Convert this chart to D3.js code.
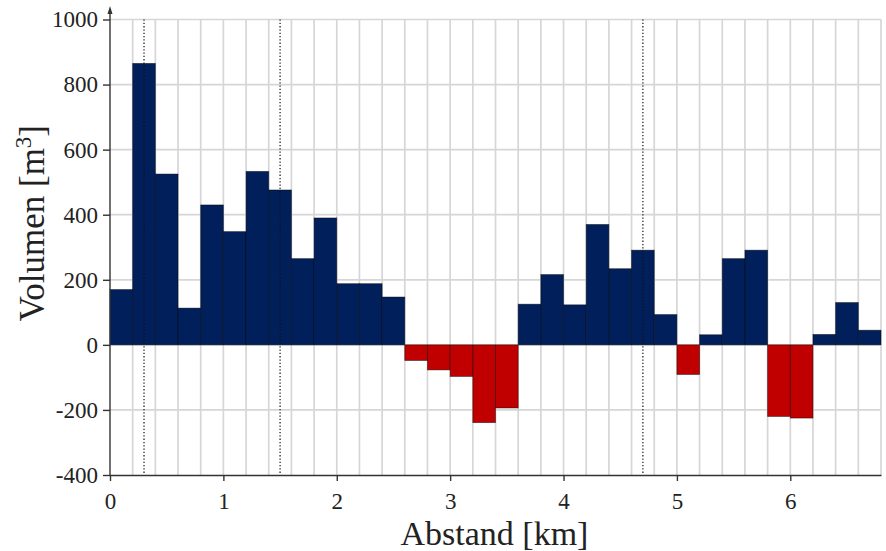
<!DOCTYPE html>
<html>
<head>
<meta charset="utf-8">
<script src="https://cdn.jsdelivr.net/npm/d3@7"></script>
<style>
  body { margin: 0; background: #fff; }
  svg text { font-family: "Liberation Serif", "DejaVu Serif", serif; fill: #222; }
</style>
</head>
<body>
<div id="chart"></div>
<script>
// bin start (km), bin width 0.2 km
const binStarts = d3.range(34).map(i => +(i * 0.2).toFixed(1));
const volumes = [170, 865, 525, 113, 430, 348, 533, 476, 265, 390,
                 188, 188, 147, -48, -77, -97, -239, -194, 125, 216,
                 123, 370, 234, 291, 93, -91, 31, 265, 291, -220,
                 -225, 32, 130, 45];
const markers = [0.3, 1.5, 4.7];
const yTicks = [-400, -200, 0, 200, 400, 600, 800, 1000];
const xTicks = [0, 1, 2, 3, 4, 5, 6];

const width = 886, height = 551;
const margin = {top: 19.5, right: 5, bottom: 76, left: 110};
const binWidth = 0.2;
const posColor = "#001f5b";
const negColor = "#c00000";

const svg = d3.select("#chart").append("svg")
  .attr("width", width)
  .attr("height", height);

const x = d3.scaleLinear().domain([0, 6.8]).range([margin.left, width - margin.right]);
const y = d3.scaleLinear().domain([-400, 1000]).range([height - margin.bottom, margin.top]);

// grid
const grid = svg.append("g").attr("stroke", "#d6d6d6").attr("stroke-width", 1.7);
grid.selectAll("line.v")
  .data(d3.range(1, 35).map(i => +(i * 0.2).toFixed(1)))
  .join("line")
  .attr("class", "v")
  .attr("x1", d => x(d)).attr("x2", d => x(d))
  .attr("y1", y(1000)).attr("y2", y(-400));
grid.selectAll("line.h")
  .data(yTicks.filter(d => d > -400))
  .join("line")
  .attr("class", "h")
  .attr("x1", x(0)).attr("x2", x(6.8))
  .attr("y1", d => y(d)).attr("y2", d => y(d));

// bars
const bars = binStarts.map((s, i) => ({start: s, value: volumes[i]}));
svg.append("g")
  .selectAll("rect")
  .data(bars)
  .join("rect")
  .attr("x", d => x(d.start))
  .attr("width", d => x(d.start + binWidth) - x(d.start))
  .attr("y", d => y(Math.max(0, d.value)))
  .attr("height", d => Math.abs(y(d.value) - y(0)))
  .attr("fill", d => d.value >= 0 ? posColor : negColor)
  .attr("stroke", "#000")
  .attr("stroke-opacity", 0.55)
  .attr("stroke-width", 0.8);

// dotted markers
svg.append("g")
  .selectAll("line")
  .data(markers)
  .join("line")
  .attr("x1", d => x(d)).attr("x2", d => x(d))
  .attr("y1", y(1000)).attr("y2", y(-400))
  .attr("stroke", "#111")
  .attr("stroke-width", 1.2)
  .attr("stroke-dasharray", "1.3,2");

// axes
const xAxis = svg.append("g")
  .attr("transform", `translate(0,${y(-400)})`)
  .call(d3.axisBottom(x).tickValues(xTicks).tickFormat(d => String(d)).tickSize(6).tickSizeOuter(0));
xAxis.select(".domain").attr("stroke", "#333").attr("stroke-width", 1.4);
xAxis.selectAll(".tick line").attr("stroke", "#333").attr("stroke-width", 1.4);
xAxis.selectAll(".tick text").attr("font-size", 23).attr("dy", "1.1em").attr("fill", "#222");

const yAxis = svg.append("g")
  .attr("transform", `translate(${x(0)},0)`)
  .call(d3.axisLeft(y).tickValues(yTicks).tickFormat(d => String(d)).tickSize(7).tickSizeOuter(0).tickPadding(5));
yAxis.select(".domain").remove();
yAxis.selectAll(".tick line").attr("stroke", "#333").attr("stroke-width", 1.4);
yAxis.selectAll(".tick text").attr("font-size", 23).attr("fill", "#222");

// y axis line with arrow
svg.append("line")
  .attr("x1", x(0)).attr("x2", x(0))
  .attr("y1", y(-400)).attr("y2", 9)
  .attr("stroke", "#333").attr("stroke-width", 1.4);
svg.append("path")
  .attr("d", `M${x(0) - 2.5},${14} L${x(0)},${6} L${x(0) + 2.5},${14} Z`)
  .attr("fill", "#333");

// axis titles
svg.append("text")
  .attr("x", (x(0) + x(6.8)) / 2 - 1)
  .attr("y", 545)
  .attr("text-anchor", "middle")
  .attr("font-size", 34)
  .text("Abstand [km]");

const yl = svg.append("text")
  .attr("transform", `translate(44,${(y(-400) + y(1000)) / 2 - 24}) rotate(-90)`)
  .attr("text-anchor", "middle")
  .attr("font-size", 35);
yl.append("tspan").text("Volumen [m");
yl.append("tspan").attr("font-size", 23).attr("dy", -13).text("3");
yl.append("tspan").attr("dy", 13).text("]");
</script>
</body>
</html>
